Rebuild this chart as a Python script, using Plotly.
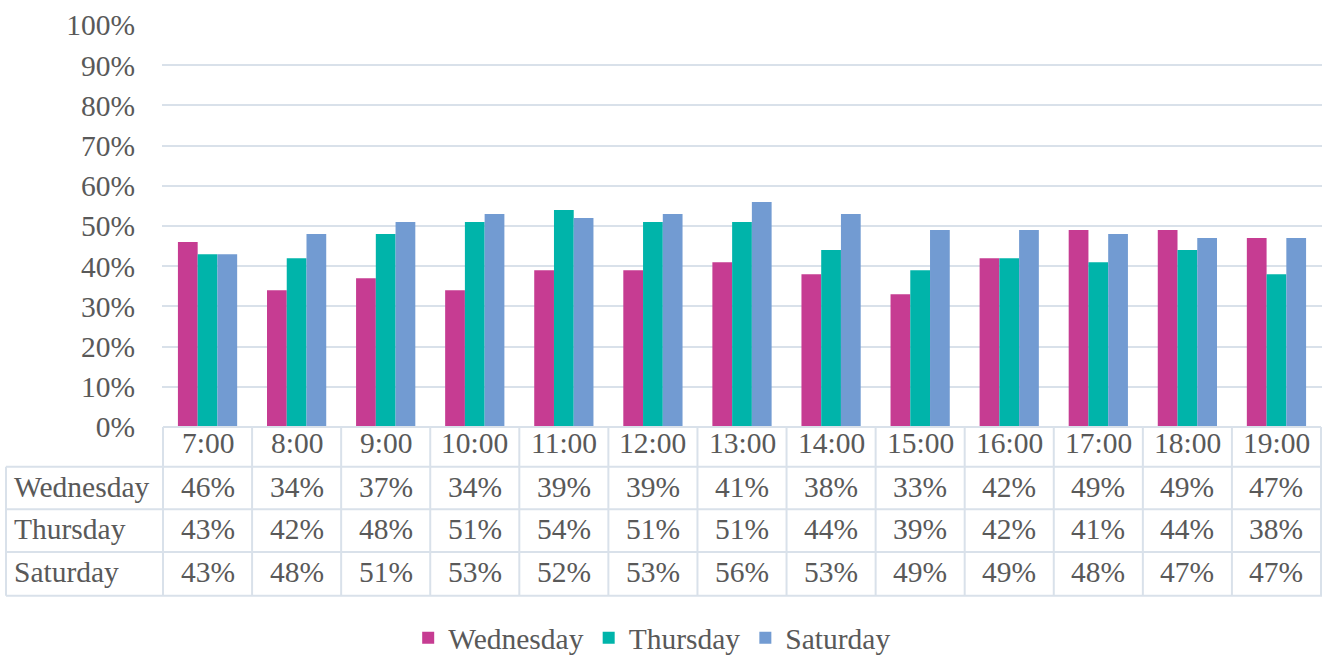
import plotly.graph_objects as go

# data
hours = ["7:00", "8:00", "9:00", "10:00", "11:00", "12:00", "13:00",
         "14:00", "15:00", "16:00", "17:00", "18:00", "19:00"]
wednesday = [46, 34, 37, 34, 39, 39, 41, 38, 33, 42, 49, 49, 47]
thursday = [43, 42, 48, 51, 54, 51, 51, 44, 39, 42, 41, 44, 38]
saturday = [43, 48, 51, 53, 52, 53, 56, 53, 49, 49, 48, 47, 47]

series = [
    ("Wednesday", wednesday, "#C63C92"),
    ("Thursday", thursday, "#00B4AA"),
    ("Saturday", saturday, "#729BD2"),
]

FONT = "Liberation Serif"
TXT = "#595959"
GRID = "#D9E1EA"
FS = 29.5

fig = go.Figure()
for name, vals, color in series:
    fig.add_trace(go.Bar(
        x=hours, y=[v / 100 for v in vals], name=name,
        marker=dict(color=color, line=dict(width=0)),
    ))

# data table under the plot (paper y: 0 = axis, negative = below)
row_lines = [-0.0985, -0.2044, -0.3103, -0.4187]
row_mid = [-0.1478, -0.2537, -0.3596]
head_mid = -0.0394
left_x = (6 - 162) / 1160

shapes = []
# header top line (axis line) spans only the category columns
shapes.append(dict(type="line", xref="x", yref="paper", x0=-0.5, x1=len(hours) - 0.5,
                   y0=0, y1=0, line=dict(color=GRID, width=2)))
for y in row_lines:
    shapes.append(dict(type="line", xref="paper", yref="paper", x0=left_x, x1=1,
                       y0=y, y1=y, line=dict(color=GRID, width=2)))
for i in range(len(hours) + 1):
    shapes.append(dict(type="line", xref="x", yref="paper", x0=i - 0.5, x1=i - 0.5,
                       y0=0, y1=row_lines[-1], line=dict(color=GRID, width=2)))
shapes.append(dict(type="line", xref="paper", yref="paper", x0=left_x, x1=left_x,
                   y0=row_lines[0], y1=row_lines[-1], line=dict(color=GRID, width=2)))

cell_font = dict(family=FONT, size=FS, color=TXT)
annotations = []
for i, h in enumerate(hours):
    annotations.append(dict(x=h, y=head_mid, xref="x", yref="paper", text=h,
                            xanchor="center", yanchor="middle",
                            showarrow=False, font=cell_font))
for r, (name, vals, color) in enumerate(series):
    annotations.append(dict(x=(12 - 162) / 1160, y=row_mid[r], xref="paper", yref="paper",
                            text=name, xanchor="left", yanchor="middle",
                            showarrow=False, font=cell_font))
    for i, v in enumerate(vals):
        annotations.append(dict(x=hours[i], y=row_mid[r], xref="x", yref="paper",
                                text=f"{v}%", xanchor="center", yanchor="middle",
                                showarrow=False, font=cell_font))

fig.update_layout(
    width=1331, height=655,
    margin=dict(l=162, r=9, t=21, b=228),
    plot_bgcolor="white", paper_bgcolor="white",
    font=dict(family=FONT, size=FS, color=TXT),
    barmode="group", bargap=0.335, bargroupgap=0,
    xaxis=dict(showticklabels=False, showgrid=False, zeroline=False, showline=False),
    yaxis=dict(range=[0, 1.0025], tickvals=[i / 10 for i in range(11)], tickformat=".0%",
               showgrid=True, gridcolor=GRID, gridwidth=1.5, zeroline=False, showline=False,
               ticklabelstandoff=26, tickfont=dict(family=FONT, size=FS, color=TXT)),
    shapes=shapes,
    annotations=annotations,
    legend=dict(orientation="h", xref="container", yref="container",
                x=0.490, y=0.026, xanchor="center", yanchor="middle",
                font=dict(family=FONT, size=FS, color=TXT), itemwidth=30),
)

fig.write_html("out.html", config={"displayModeBar": False},
               post_script="document.body.style.margin='0';")
